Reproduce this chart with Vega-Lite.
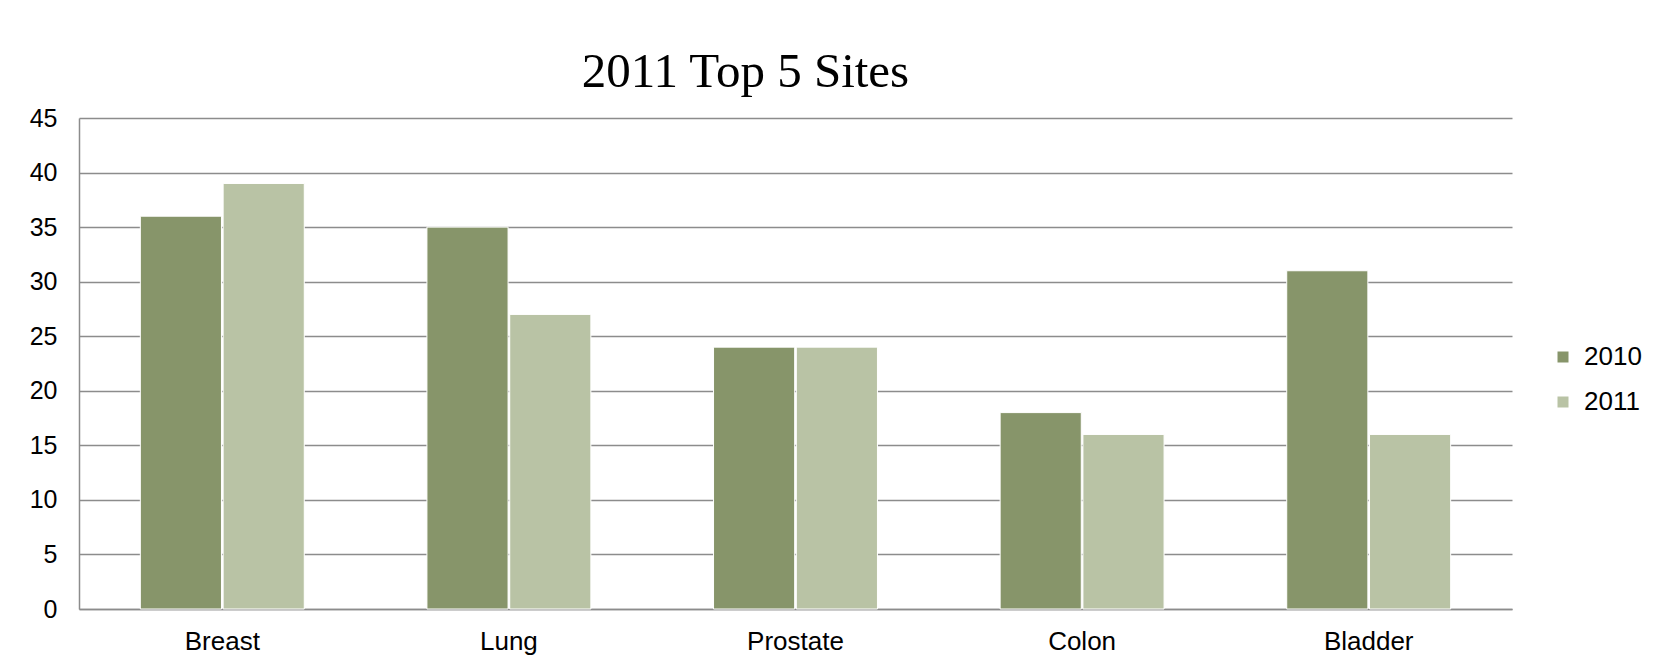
{
  "$schema": "https://vega.github.io/schema/vega-lite/v6.json",
  "autosize": {"type": "none"},
  "width": 1433,
  "height": 491,
  "padding": {"left": 79, "top": 118, "right": 146, "bottom": 59},
  "background": "white",
  "title": {
    "text": "2011 Top 5 Sites",
    "font": "Liberation Serif",
    "fontSize": 49,
    "fontWeight": "normal",
    "color": "black",
    "anchor": "middle",
    "dx": -50,
    "offset": 9
  },
  "data": {
    "values": [
      {"site": "Breast", "year": "2010", "value": 36},
      {"site": "Breast", "year": "2011", "value": 39},
      {"site": "Lung", "year": "2010", "value": 35},
      {"site": "Lung", "year": "2011", "value": 27},
      {"site": "Prostate", "year": "2010", "value": 24},
      {"site": "Prostate", "year": "2011", "value": 24},
      {"site": "Colon", "year": "2010", "value": 18},
      {"site": "Colon", "year": "2011", "value": 16},
      {"site": "Bladder", "year": "2010", "value": 31},
      {"site": "Bladder", "year": "2011", "value": 16}
    ]
  },
  "mark": {"type": "bar", "stroke": "white", "strokeWidth": 1},
  "encoding": {
    "x": {
      "field": "site",
      "type": "nominal",
      "sort": ["Breast", "Lung", "Prostate", "Colon", "Bladder"],
      "scale": {"paddingInner": 0.428, "paddingOuter": 0.214},
      "axis": {
        "title": null,
        "labelAngle": 0,
        "ticks": false,
        "labelPadding": 19,
        "labelFont": "Liberation Sans",
        "labelFontSize": 26,
        "labelColor": "black",
        "domainColor": "#8c8c8c",
        "domainWidth": 1.5
      }
    },
    "xOffset": {
      "field": "year",
      "type": "nominal",
      "scale": {"paddingInner": 0.02}
    },
    "y": {
      "field": "value",
      "type": "quantitative",
      "scale": {"domain": [0, 45]},
      "axis": {
        "title": null,
        "values": [0, 5, 10, 15, 20, 25, 30, 35, 40, 45],
        "ticks": false,
        "labelPadding": 22,
        "labelFont": "Liberation Sans",
        "labelFontSize": 25,
        "labelColor": "black",
        "domainColor": "#8c8c8c",
        "domainWidth": 1.5,
        "grid": true,
        "gridColor": "#8c8c8c",
        "gridWidth": 1.5
      }
    },
    "color": {
      "field": "year",
      "type": "nominal",
      "scale": {"domain": ["2010", "2011"], "range": ["#87956a", "#b9c3a5"]},
      "legend": {
        "title": null,
        "orient": "none",
        "legendX": 1471,
        "legendY": 226,
        "symbolType": "square",
        "symbolSize": 121,
        "symbolStrokeWidth": 0,
        "labelFont": "Liberation Sans",
        "labelFontSize": 26,
        "labelColor": "black",
        "labelOffset": 8,
        "rowPadding": 19
      }
    }
  },
  "config": {"view": {"stroke": null}}
}
